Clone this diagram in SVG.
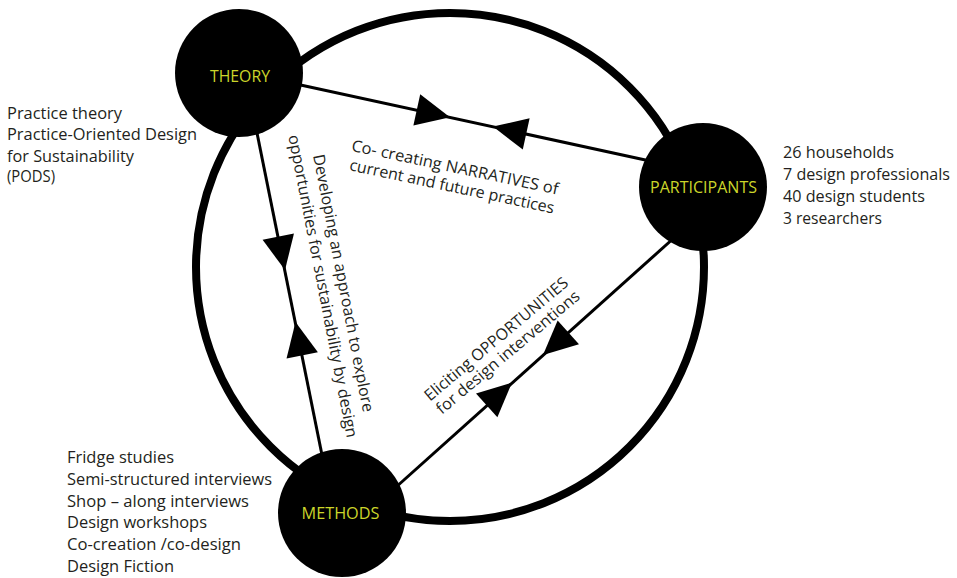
<svg xmlns="http://www.w3.org/2000/svg" width="957" height="578" viewBox="0 0 957 578">
  <defs>
    <style>
      .ring { fill: none; stroke: #000; stroke-width: 8; }
      .link { fill: none; stroke: #000; stroke-width: 3; }
      .node { fill: #000; }
      .nlabel { font-family: "Open Sans", "Noto Sans", "Liberation Sans", sans-serif; font-size: 17px; fill: #cbd52a; text-anchor: middle; }
      .note { font-family: "Open Sans", "Noto Sans", "Liberation Sans", sans-serif; font-size: 16px; fill: #231f20; }
      .elabel { font-family: "Open Sans", "Noto Sans", "Liberation Sans", sans-serif; font-size: 16px; fill: #231f20; text-anchor: middle; }
    </style>
    <!-- arrowhead pointing along +x, tip at origin -->
    <path id="arrow" d="M0,0 L-34,-16 L-34,16 Z" fill="#000"/>
  </defs>

  <rect width="957" height="578" fill="#fff"/>

  <g id="connectors">
    <circle class="ring" cx="450" cy="267" r="254"/>
    <!-- THEORY - PARTICIPANTS -->
    <line class="link" x1="296" y1="84" x2="650" y2="161"/>
    <use href="#arrow" transform="translate(450,117.2) rotate(12.35)"/>
    <use href="#arrow" transform="translate(493,126.6) rotate(192.35)"/>
    <!-- THEORY - METHODS -->
    <line class="link" x1="256" y1="128" x2="322" y2="455"/>
    <use href="#arrow" transform="translate(285,270) rotate(78.6)"/>
    <use href="#arrow" transform="translate(295.5,322) rotate(258.6)"/>
    <!-- PARTICIPANTS - METHODS -->
    <line class="link" x1="675" y1="237" x2="395" y2="488"/>
    <use href="#arrow" transform="translate(543,355) rotate(138.1)"/>
    <use href="#arrow" transform="translate(512,382.6) rotate(-41.9)"/>
  </g>

  <g id="theory">
    <circle class="node" cx="239" cy="73" r="64"/>
    <text class="nlabel" x="240" y="82" textLength="60" lengthAdjust="spacingAndGlyphs">THEORY</text>
  </g>

  <g id="participants">
    <circle class="node" cx="703" cy="187" r="64"/>
    <text class="nlabel" x="703.5" y="193" textLength="107" lengthAdjust="spacingAndGlyphs">PARTICIPANTS</text>
  </g>

  <g id="methods">
    <circle class="node" cx="342" cy="513" r="64"/>
    <text class="nlabel" x="340.5" y="519" textLength="78" lengthAdjust="spacingAndGlyphs">METHODS</text>
  </g>

  <g id="theory-notes">
    <text class="note" x="7" y="119" textLength="115" lengthAdjust="spacingAndGlyphs">Practice theory</text>
    <text class="note" x="7" y="140" textLength="190" lengthAdjust="spacingAndGlyphs">Practice-Oriented Design</text>
    <text class="note" x="7" y="161.5" textLength="127" lengthAdjust="spacingAndGlyphs">for Sustainability</text>
    <text class="note" x="7" y="182" textLength="48" lengthAdjust="spacingAndGlyphs">(PODS)</text>
  </g>

  <g id="participant-notes">
    <text class="note" x="783" y="158" textLength="111" lengthAdjust="spacingAndGlyphs">26 households</text>
    <text class="note" x="783" y="180" textLength="167" lengthAdjust="spacingAndGlyphs">7 design professionals</text>
    <text class="note" x="783" y="202" textLength="142" lengthAdjust="spacingAndGlyphs">40 design students</text>
    <text class="note" x="783" y="224" textLength="99" lengthAdjust="spacingAndGlyphs">3 researchers</text>
  </g>

  <g id="method-notes">
    <text class="note" x="67" y="463" textLength="107" lengthAdjust="spacingAndGlyphs">Fridge studies</text>
    <text class="note" x="67" y="485" textLength="205" lengthAdjust="spacingAndGlyphs">Semi-structured interviews</text>
    <text class="note" x="67" y="506.5" textLength="182" lengthAdjust="spacingAndGlyphs">Shop – along interviews</text>
    <text class="note" x="67" y="528" textLength="140" lengthAdjust="spacingAndGlyphs">Design workshops</text>
    <text class="note" x="67" y="550" textLength="174" lengthAdjust="spacingAndGlyphs">Co-creation /co-design</text>
    <text class="note" x="67" y="571.5" textLength="107" lengthAdjust="spacingAndGlyphs">Design Fiction</text>
  </g>

  <g id="edge-labels">
    <g transform="translate(453.9,172.6) rotate(12)">
      <text class="elabel" x="0" y="0" textLength="211" lengthAdjust="spacingAndGlyphs">Co- creating NARRATIVES of</text>
      <text class="elabel" x="1" y="19.4" textLength="209" lengthAdjust="spacingAndGlyphs">current and future practices</text>
    </g>
    <g transform="translate(338.1,284.2) rotate(79)">
      <text class="elabel" x="0" y="0" textLength="262" lengthAdjust="spacingAndGlyphs">Developing an approach to explore</text>
      <text class="elabel" x="-1" y="20.7" textLength="308" lengthAdjust="spacingAndGlyphs">opportunities for sustainability by design</text>
    </g>
    <g transform="translate(499.7,343.2) rotate(-40)">
      <text class="elabel" x="0" y="0" textLength="182" lengthAdjust="spacingAndGlyphs">Eliciting OPPORTUNITIES</text>
      <text class="elabel" x="0.4" y="17.7" textLength="182" lengthAdjust="spacingAndGlyphs">for design interventions</text>
    </g>
  </g>
</svg>
